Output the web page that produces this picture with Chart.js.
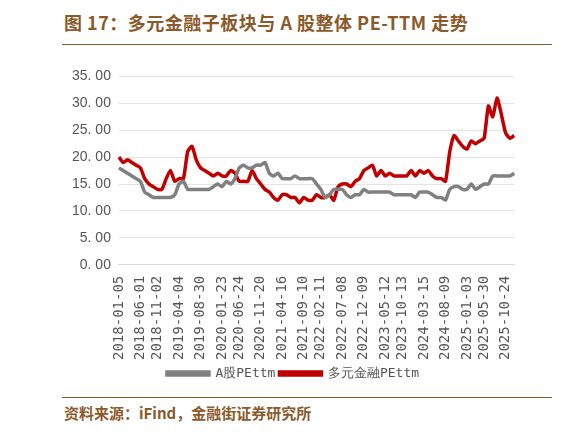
<!DOCTYPE html>
<html><head><meta charset="utf-8">
<script src="https://cdn.jsdelivr.net/npm/chart.js@4/dist/chart.umd.min.js"></script>
<style>
body{margin:0;width:581px;height:440px;background:#fff;font-family:"Noto Sans CJK SC",sans-serif;position:relative;overflow:hidden}
#title{position:absolute;left:64px;top:9px;font-size:18px;font-weight:bold;color:#8B5A2B;letter-spacing:0.5px}
#tline{position:absolute;left:62px;top:44px;width:490px;height:1px;background:#8B5A2B}
#bline{position:absolute;left:62px;top:397px;width:490px;height:1px;background:#8B5A2B}
#src{position:absolute;left:64px;top:402px;font-size:15px;font-weight:bold;color:#8B5A2B}
#wrap{position:absolute;left:64px;top:60px;width:470px;height:330px}
</style></head><body>
<div id="title">图 17：多元金融子板块与 A 股整体 PE-TTM 走势</div>
<div id="tline"></div>
<div id="wrap"><canvas id="c"></canvas></div>
<div id="bline"></div>
<div id="src">资料来源：iFind，金融街证券研究所</div>
<script>
const tickLabels = ["2018-01-05","2018-06-01","2018-11-02","2019-04-04","2019-08-30","2020-01-23","2020-06-24","2020-11-20","2021-04-16","2021-09-10","2022-02-11","2022-07-08","2022-12-09","2023-05-12","2023-10-13","2024-03-15","2024-08-09","2025-01-03","2025-05-30","2025-10-24"];
const redPE = [20,19,19.5,19,18.5, 18,16,15,14.5,14, 14,16,17.5,15.5,16, 16,21,22,19.5,18, 17.5,17,16.5,17,16.5, 16.5,17.5,17,15.5,15.5, 15.5,17.5,16,15,14, 13.5,12.5,12,13,13, 12.5,12.5,11.5,12.5,12, 12,13,12.5,12.5,13, 12,14.5,15,15,14.5, 15.5,16,17.5,18,18.5, 16.5,17.5,16.5,17,16.5, 16.5,16.5,16.5,17.5,16.5, 17.5,17,17.5,16.5,16, 16,15.5,21,24,23, 22,21.5,23,22.5,23, 23.5,29.5,27.5,31,28, 24.5,23.5,24];
const grayPE = [18,17.5,17,16.5,16, 15.5,13.5,13,12.5,12.5, 12.5,12.5,12.5,13,15, 15.5,14,14,14,14, 14,14,14.5,15,14.5, 15.5,15,16,18,18.5, 18,18,18.5,18.5,19, 17,16.5,17,16,16, 16,16.5,16,16,16, 16,15,14,12.5,13, 14,14,14,13,12.5, 13,13,14,13.5,13.5, 13.5,13.5,13.5,13.5,13, 13,13,13,13,12.5, 13.5,13.5,13.5,13,12.5, 12.5,12,14,14.5,14.5, 14,14,15,14,14.5, 15,15,16.5,16.5,16.5, 16.5,16.5,17];
// place each tick label on the nearest sample
const labels = redPE.map(() => "");
tickLabels.forEach((t, k) => { labels[Math.round(k * 4.74)] = t; });

new Chart(document.getElementById("c"), {
    type: "line",
    data: {
        labels,
        datasets: [
            {label: "A股PEttm", data: grayPE, borderColor: "#808080", backgroundColor: "#808080", borderWidth: 3.5, pointRadius: 0, tension: 0.2},
            {label: "多元金融PEttm", data: redPE, borderColor: "#C00000", backgroundColor: "#C00000", borderWidth: 3.5, pointRadius: 0, tension: 0.2}
        ]
    },
    options: {
        animation: false,
        responsive: true,
        maintainAspectRatio: false,
        layout: {padding: {right: 12}},
        plugins: {
            legend: {
                position: "bottom",
                labels: {boxWidth: 42, boxHeight: 3, padding: 4, color: "#555", font: {family: "DejaVu Sans Mono, monospace", size: 13}}
            }
        },
        scales: {
            x: {
                grid: {display: false},
                border: {color: "#d9d9d9"},
                ticks: {autoSkip: false, maxRotation: 90, minRotation: 90, color: "#555", font: {family: "DejaVu Sans Mono, monospace", size: 14},
                    callback: (v, i) => labels[i]}
            },
            y: {
                min: 0, max: 35,
                grid: {color: "#e3e3e3", drawTicks: false},
                border: {display: false},
                ticks: {stepSize: 5, padding: 8, color: "#555", font: {family: "Liberation Sans", size: 14},
                    callback: v => v.toFixed(2).replace(".", ". ")}
            }
        }
    }
});
</script>
</body></html>
